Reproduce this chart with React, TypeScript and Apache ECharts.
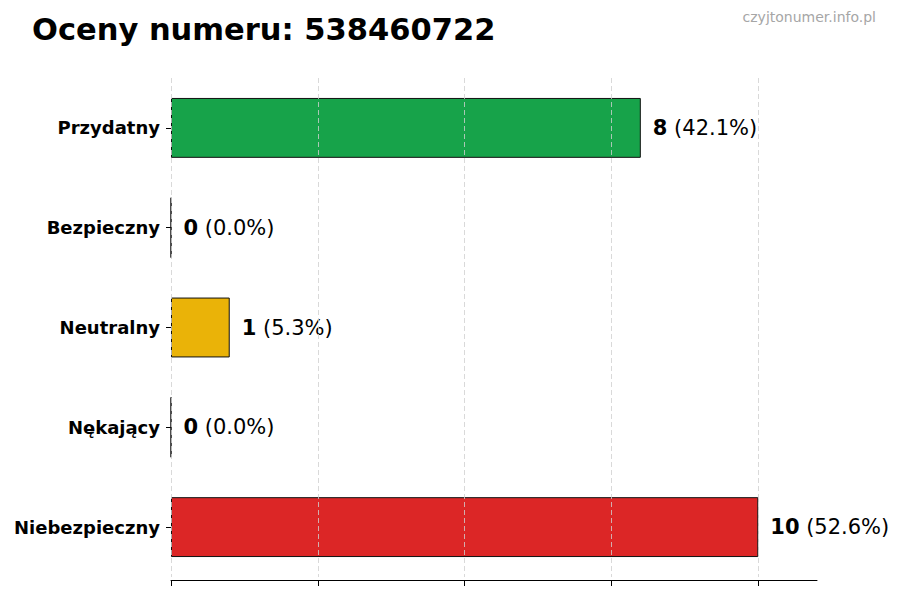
import React, { useEffect, useRef } from 'react';
import * as echarts from 'echarts';

const categories = ['Przydatny', 'Bezpieczny', 'Neutralny', 'Nękający', 'Niebezpieczny'];
const counts = [8, 0, 1, 0, 10];
const percents = ['42.1%', '0.0%', '5.3%', '0.0%', '52.6%'];
const barColors = ['#17a34a', '#2563eb', '#eab308', '#f97316', '#dc2626'];
const gridValues = [0, 2.5, 5, 7.5, 10];

const FONT = '"DejaVu Sans", sans-serif';

export default function App() {
  const chartRef = useRef<HTMLDivElement | null>(null);

  useEffect(() => {
    if (!chartRef.current) return;
    const inst = echarts.init(chartRef.current, undefined, { renderer: 'svg' });
    inst.setOption({
      animation: false,
      backgroundColor: '#ffffff',
      title: {
        text: 'Oceny numeru: 538460722',
        left: 27,
        top: 9,
        textStyle: { fontFamily: FONT, fontSize: 30.5, fontWeight: 'bold', color: '#000' },
      },
      graphic: [
        {
          type: 'text',
          right: 24,
          top: 10,
          style: { text: 'czyjtonumer.info.pl', fill: '#a6a6a6', fontSize: 14, fontFamily: FONT },
        },
      ],
      grid: { left: 171, top: 78, width: 646, height: 499 },
      xAxis: {
        type: 'value',
        min: 0,
        max: 11,
        interval: 2.5,
        offset: 3,
        axisLine: { show: true, lineStyle: { color: '#000', width: 1 } },
        axisTick: { show: true, length: 6, customValues: gridValues, lineStyle: { color: '#000' } },
        axisLabel: { show: false },
        splitLine: { show: false },
      },
      yAxis: {
        type: 'category',
        inverse: true,
        data: categories,
        axisLine: { show: false },
        axisTick: { show: true, alignWithLabel: true, length: 5, lineStyle: { color: '#000' } },
        axisLabel: {
          margin: 11,
          color: '#000',
          fontFamily: FONT,
          fontSize: 18,
          fontWeight: 'bold',
        },
        splitLine: { show: false },
      },
      series: [
        {
          type: 'bar',
          barWidth: '60%',
          data: counts.map((v, i) => ({ value: v, itemStyle: { color: barColors[i] } })),
          itemStyle: { borderColor: '#111', borderWidth: 1 },
          label: {
            show: true,
            position: 'right',
            distance: 12,
            formatter: (p: any) => `{b|${counts[p.dataIndex]}}{n| (${percents[p.dataIndex]})}`,
            rich: {
              b: { fontFamily: FONT, fontSize: 21, fontWeight: 'bold', color: '#000' },
              n: { fontFamily: FONT, fontSize: 21, color: '#000' },
            },
          },
          markLine: {
            silent: true,
            symbol: 'none',
            label: { show: false },
            lineStyle: { color: '#d0d0d0', type: [5, 3], width: 1, opacity: 0.8 },
            data: gridValues.map((v) => ({ xAxis: v })),
          },
        },
      ],
    });
    return () => {
      inst.dispose();
    };
  }, []);

  return (
    <div
      ref={chartRef}
      style={{ position: 'absolute', left: 0, top: 0, width: 900, height: 600 }}
    />
  );
}
